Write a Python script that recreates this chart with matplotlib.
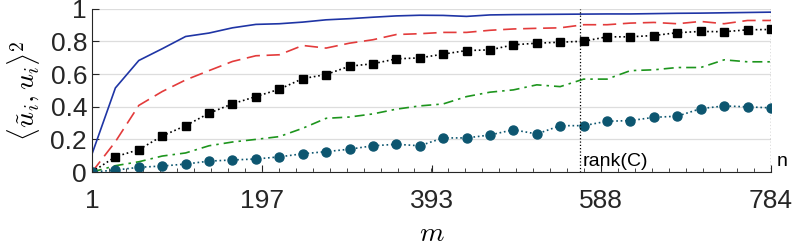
import matplotlib
matplotlib.use('Agg')
import matplotlib.pyplot as plt
import numpy as np
from matplotlib.ticker import FixedLocator

plt.rcParams['font.family'] = ['Liberation Sans', 'DejaVu Sans']
plt.rcParams['mathtext.fontset'] = 'cm'

# number of samples m
m = np.arange(1, 785, 27)
rank_c = 564
n = 784

blue_vals = [0.11, 0.515, 0.683, 0.755, 0.83, 0.851, 0.883, 0.904, 0.908, 0.918,
             0.932, 0.939, 0.948, 0.956, 0.96, 0.959, 0.953, 0.962, 0.964, 0.965,
             0.966, 0.967, 0.968, 0.968, 0.97, 0.972, 0.973, 0.975, 0.977, 0.979]
red_vals = [0.0, 0.186, 0.408, 0.493, 0.564, 0.621, 0.677, 0.712, 0.718, 0.775,
            0.759, 0.789, 0.81, 0.842, 0.847, 0.855, 0.855, 0.868, 0.876, 0.88,
            0.883, 0.902, 0.902, 0.912, 0.916, 0.908, 0.922, 0.908, 0.928, 0.928]
black_vals = [0.0, 0.094, 0.137, 0.221, 0.284, 0.36, 0.418, 0.462, 0.507, 0.572,
              0.597, 0.648, 0.663, 0.693, 0.699, 0.722, 0.744, 0.748, 0.779, 0.789,
              0.795, 0.801, 0.828, 0.828, 0.836, 0.853, 0.861, 0.859, 0.871, 0.873]
green_vals = [0.0, 0.039, 0.063, 0.098, 0.117, 0.161, 0.184, 0.2, 0.217, 0.268,
              0.329, 0.337, 0.356, 0.385, 0.405, 0.417, 0.462, 0.489, 0.503, 0.534,
              0.523, 0.569, 0.569, 0.621, 0.626, 0.64, 0.64, 0.687, 0.675, 0.675]
teal_vals = [0.0, 0.012, 0.029, 0.037, 0.049, 0.067, 0.074, 0.08, 0.093, 0.112,
             0.125, 0.14, 0.161, 0.17, 0.161, 0.209, 0.209, 0.227, 0.259, 0.233,
             0.284, 0.284, 0.311, 0.315, 0.335, 0.342, 0.388, 0.405, 0.399, 0.393]

xticks = [1, 197, 393, 588, 784]
yticks = [0, 0.2, 0.4, 0.6, 0.8, 1]
ytick_labels = ['0', '0.2', '0.4', '0.6', '0.8', '1']

fig = plt.figure(figsize=(7.95, 2.49), dpi=100)
ax = fig.add_axes([0.1157, 0.309, 0.854, 0.656])

ax.plot(m, blue_vals, '-', color='#1f35a5', lw=1.2)
ax.plot(m, red_vals, '--', color='#e33b3b', lw=1.2, dashes=(8, 4))
ax.plot(m, black_vals, ':', color='black', lw=1.2, marker='s', ms=5.5)
ax.plot(m, green_vals, '-.', color='#1d951d', lw=1.2, dashes=(6, 3, 1.5, 3))
ax.plot(m, teal_vals, ':', color='#0d5670', lw=1.2, marker='o', ms=6.5)

ax.axvline(rank_c, color='black', ls=':', lw=0.9)
ax.axvline(n, color='black', ls=':', lw=0.9)
ax.text(rank_c + 3, 0.01, 'rank(C)', fontsize=14, ha='left', va='bottom')
ax.text(n + 7, 0.01, 'n', fontsize=14, ha='left', va='bottom', clip_on=False)

ax.set_xlim(1, 784)
ax.set_ylim(0, 1)
ax.set_xticks(xticks)
ax.xaxis.set_minor_locator(FixedLocator(np.linspace(1, 784, 41)))
ax.set_yticks(yticks)
ax.set_yticklabels(ytick_labels)
ax.tick_params(direction='in', labelsize=19, colors='#262626', length=5, width=0.8)
ax.tick_params(which='minor', direction='in', length=3, width=0.6, colors='#262626')
ax.tick_params(axis='x', pad=12)
ax.grid(axis='y', color='#dddddd', lw=0.9)
ax.set_axisbelow(True)
for s in ['top', 'right']:
    ax.spines[s].set_visible(False)
for s in ['left', 'bottom']:
    ax.spines[s].set_color('#262626')
    ax.spines[s].set_linewidth(0.8)

ax.set_xlabel(r'$m$', fontsize=20, labelpad=6)
ax.set_ylabel(r'$\langle \tilde{u}_i, u_i \rangle^2$', fontsize=20, labelpad=6)

fig.savefig('out.png', dpi=100)
